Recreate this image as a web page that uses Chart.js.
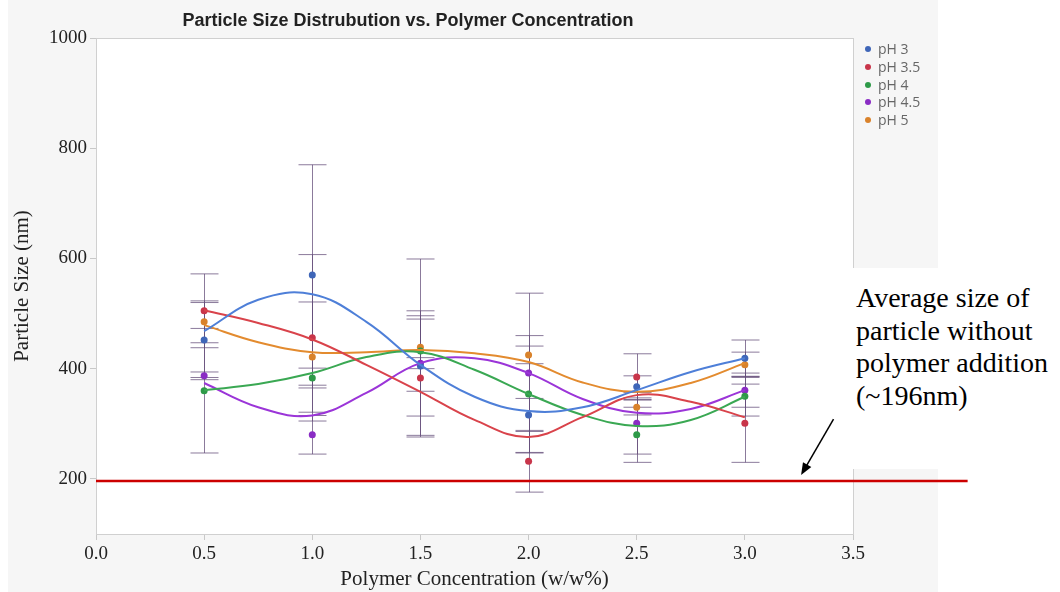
<!DOCTYPE html>
<html>
<head>
<meta charset="utf-8">
<title>Particle Size Distrubution vs. Polymer Concentration</title>
<script src="https://cdn.jsdelivr.net/npm/chart.js@4.4.1/dist/chart.umd.min.js"></script>
<style>
    body { margin: 0; background: #fff; }
    #wrap { position: relative; width: 1060px; height: 592px; overflow: hidden; }
    #frame { position: absolute; left: 8px; top: 0; width: 930px; height: 592px; background: #f6f6f6; }
    #chart { position: absolute; left: 0; top: 0; }
    #title {
        position: absolute; left: 108px; top: 10px; width: 600px; text-align: center;
        font: bold 18px "Liberation Sans", Arial, sans-serif; color: #222;
    }
    #legend { position: absolute; left: 865px; top: 40px; font: 14px "Open Sans", sans-serif; color: #666; }
    #legend div { height: 17.75px; line-height: 17.75px; white-space: nowrap; }
    #legend span { display: inline-block; width: 6px; height: 6px; border-radius: 50%; margin-right: 7px; vertical-align: 2px; }
    #note {
        position: absolute; left: 852px; top: 268px; width: 208px; height: 201px; background: #fff;
        font: 28px "Liberation Serif", "Times New Roman", serif; line-height: 32.5px; color: #000;
        padding: 14px 0 0 4px; box-sizing: border-box; white-space: nowrap;
    }
</style>
</head>
<body>
<div id="wrap">
    <div id="frame"></div>
    <canvas id="chart" width="1060" height="592"></canvas>
    <div id="title">Particle Size Distrubution vs. Polymer Concentration</div>
    <div id="legend"></div>
    <div id="note">Average size of<br>particle without<br>polymer addition<br>(~196nm)</div>
</div>
<script>
// polymer concentrations (w/w%)
const conc = [0.5, 1.0, 1.5, 2.0, 2.5, 3.0];

// mean particle size (nm) per pH
const sizePh3  = [452, 570, 405, 316, 367, 419];
const sizePh35 = [505, 456, 383, 232, 385, 301];
const sizePh4  = [360, 383, 432, 354, 280, 350];
const sizePh45 = [387, 280, 410, 392, 301, 361];
const sizePh5  = [485, 421, 439, 425, 330, 407];

// error bar half-widths (nm)
const errPh3  = [68, 200, 91, 30, 20, 33];
const errPh35 = [67, 151, 107, 56, 42, 71];
const errPh4  = [113, 18, 73, 106, 50, 36];
const errPh45 = [7, 35, 10, 145, 56, 31];
const errPh5  = [38, 100, 160, 16, 14, 23];

// smoothing curves, read at quarter steps
const fitX     = [0.5, 0.75, 1.0, 1.25, 1.5, 1.75, 2.0, 2.25, 2.5, 2.75, 3.0];
const fitPh3   = [468, 525, 535, 485, 407, 349, 323, 330, 361, 394, 419];
const fitPh35  = [506, 483, 453, 407, 358, 307, 276, 312, 352, 340, 312];
const fitPh4   = [361, 372, 392, 421, 430, 398, 354, 316, 296, 307, 349];
const fitPh45  = [374, 330, 315, 356, 410, 419, 392, 345, 320, 327, 361];
const fitPh5   = [479, 448, 430, 430, 434, 428, 412, 375, 358, 374, 410];

// reference size without polymer
const baselineSize = 196;

const xTicks = [0, 0.5, 1.0, 1.5, 2.0, 2.5, 3.0, 3.5];
const yTicks = [200, 400, 600, 800, 1000];

const series = [
    { name: 'pH 3',   size: sizePh3,  err: errPh3,  fit: fitPh3,  line: '#4e7fd8', dot: '#3f66b8' },
    { name: 'pH 3.5', size: sizePh35, err: errPh35, fit: fitPh35, line: '#d9434b', dot: '#c8354a' },
    { name: 'pH 4',   size: sizePh4,  err: errPh4,  fit: fitPh4,  line: '#3aa853', dot: '#2e9a48' },
    { name: 'pH 4.5', size: sizePh45, err: errPh45, fit: fitPh45, line: '#9b35d8', dot: '#8a2cc4' },
    { name: 'pH 5',   size: sizePh5,  err: errPh5,  fit: fitPh5,  line: '#e38b2f', dot: '#d9822b' }
];

// legend
const legend = document.getElementById('legend');
series.forEach(s => {
    const row = document.createElement('div');
    row.innerHTML = `<span style="background:${s.dot}"></span>${s.name}`;
    legend.appendChild(row);
});

const datasets = [];
series.forEach(s => {
    datasets.push({
        label: s.name + ' fit',
        data: fitX.map((x, i) => ({ x, y: s.fit[i] })),
        showLine: true,
        borderColor: s.line,
        borderWidth: 2,
        tension: 0.4,
        pointRadius: 0
    });
});
series.forEach(s => {
    datasets.push({
        label: s.name,
        data: conc.map((x, i) => ({ x, y: s.size[i] })),
        pointRadius: 3.5,
        pointBackgroundColor: s.dot,
        pointBorderWidth: 0
    });
});

const serif = '"Liberation Serif", "Times New Roman", serif';

const decor = {
    id: 'decor',
    beforeDraw(chart) {
        const { ctx, chartArea: a } = chart;
        ctx.save();
        ctx.fillStyle = '#fff';
        ctx.fillRect(a.left, a.top, a.right - a.left, a.bottom - a.top);
        ctx.restore();
    },
    beforeDatasetsDraw(chart) {
        // error bars
        const { ctx, scales: { x, y } } = chart;
        ctx.save();
        ctx.strokeStyle = 'rgba(100, 78, 122, 0.75)';
        ctx.lineWidth = 1;
        series.forEach(s => {
            conc.forEach((c, i) => {
                const px = Math.round(x.getPixelForValue(c)) + 0.5;
                const hi = y.getPixelForValue(s.size[i] + s.err[i]);
                const lo = y.getPixelForValue(s.size[i] - s.err[i]);
                ctx.beginPath();
                ctx.moveTo(px, hi); ctx.lineTo(px, lo);
                ctx.moveTo(px - 14, hi); ctx.lineTo(px + 14, hi);
                ctx.moveTo(px - 14, lo); ctx.lineTo(px + 14, lo);
                ctx.stroke();
            });
        });
        ctx.restore();
    },
    afterDatasetsDraw(chart) {
        const { ctx, chartArea: a, scales: { x, y } } = chart;
        ctx.save();
        // plot frame
        ctx.strokeStyle = '#d0d0d0';
        ctx.lineWidth = 1;
        ctx.strokeRect(a.left + 0.5, a.top + 0.5, a.right - a.left, a.bottom - a.top);

        // baseline, running past the plot into the note
        const by = y.getPixelForValue(baselineSize);
        ctx.strokeStyle = '#cc0000';
        ctx.lineWidth = 2.5;
        ctx.beginPath();
        ctx.moveTo(x.getPixelForValue(0), by);
        ctx.lineTo(x.getPixelForValue(4.03), by);
        ctx.stroke();

        // arrow pointing at the baseline
        const tx = x.getPixelForValue(3.26), ty = by - 6;
        const sx = x.getPixelForValue(3.41), sy = ty - 56;
        const ang = Math.atan2(ty - sy, tx - sx);
        ctx.strokeStyle = '#000';
        ctx.fillStyle = '#000';
        ctx.lineWidth = 1.5;
        ctx.beginPath();
        ctx.moveTo(sx, sy);
        ctx.lineTo(tx - 8 * Math.cos(ang), ty - 8 * Math.sin(ang));
        ctx.stroke();
        ctx.beginPath();
        ctx.moveTo(tx, ty);
        ctx.lineTo(tx - 13 * Math.cos(ang - 0.38), ty - 13 * Math.sin(ang - 0.38));
        ctx.lineTo(tx - 13 * Math.cos(ang + 0.38), ty - 13 * Math.sin(ang + 0.38));
        ctx.closePath();
        ctx.fill();
        ctx.restore();
    }
};

new Chart(document.getElementById('chart'), {
    type: 'scatter',
    data: { datasets },
    plugins: [decor],
    options: {
        responsive: false,
        animation: false,
        layout: { padding: { left: 0, top: 38, right: 207, bottom: 0 } },
        plugins: { legend: { display: false }, tooltip: { enabled: false } },
        scales: {
            x: {
                type: 'linear', min: 0, max: 3.5,
                afterBuildTicks: s => { s.ticks = xTicks.map(v => ({ value: v })); },
                afterFit: s => { s.height = 58; },
                ticks: { callback: v => v.toFixed(1), color: '#222', font: { family: serif, size: 19 }, padding: 3 },
                grid: { drawOnChartArea: false, tickLength: 6, color: '#c8c8c8' },
                border: { color: '#c8c8c8' },
                title: { display: true, text: 'Polymer Concentration (w/w%)', color: '#222',
                         font: { family: serif, size: 21 }, padding: { top: 0, bottom: 0 } }
            },
            y: {
                type: 'linear', min: 100, max: 1000,
                afterBuildTicks: s => { s.ticks = yTicks.map(v => ({ value: v })); },
                afterFit: s => { s.width = 96; },
                ticks: { callback: v => String(v), color: '#222', font: { family: serif, size: 19 }, padding: 3 },
                grid: { drawOnChartArea: false, tickLength: 6, color: '#c8c8c8' },
                border: { color: '#c8c8c8' },
                title: { display: true, text: 'Particle Size (nm)', color: '#222',
                         font: { family: serif, size: 21 }, padding: { top: 10, bottom: 0 } }
            }
        }
    }
});
</script>
</body>
</html>
